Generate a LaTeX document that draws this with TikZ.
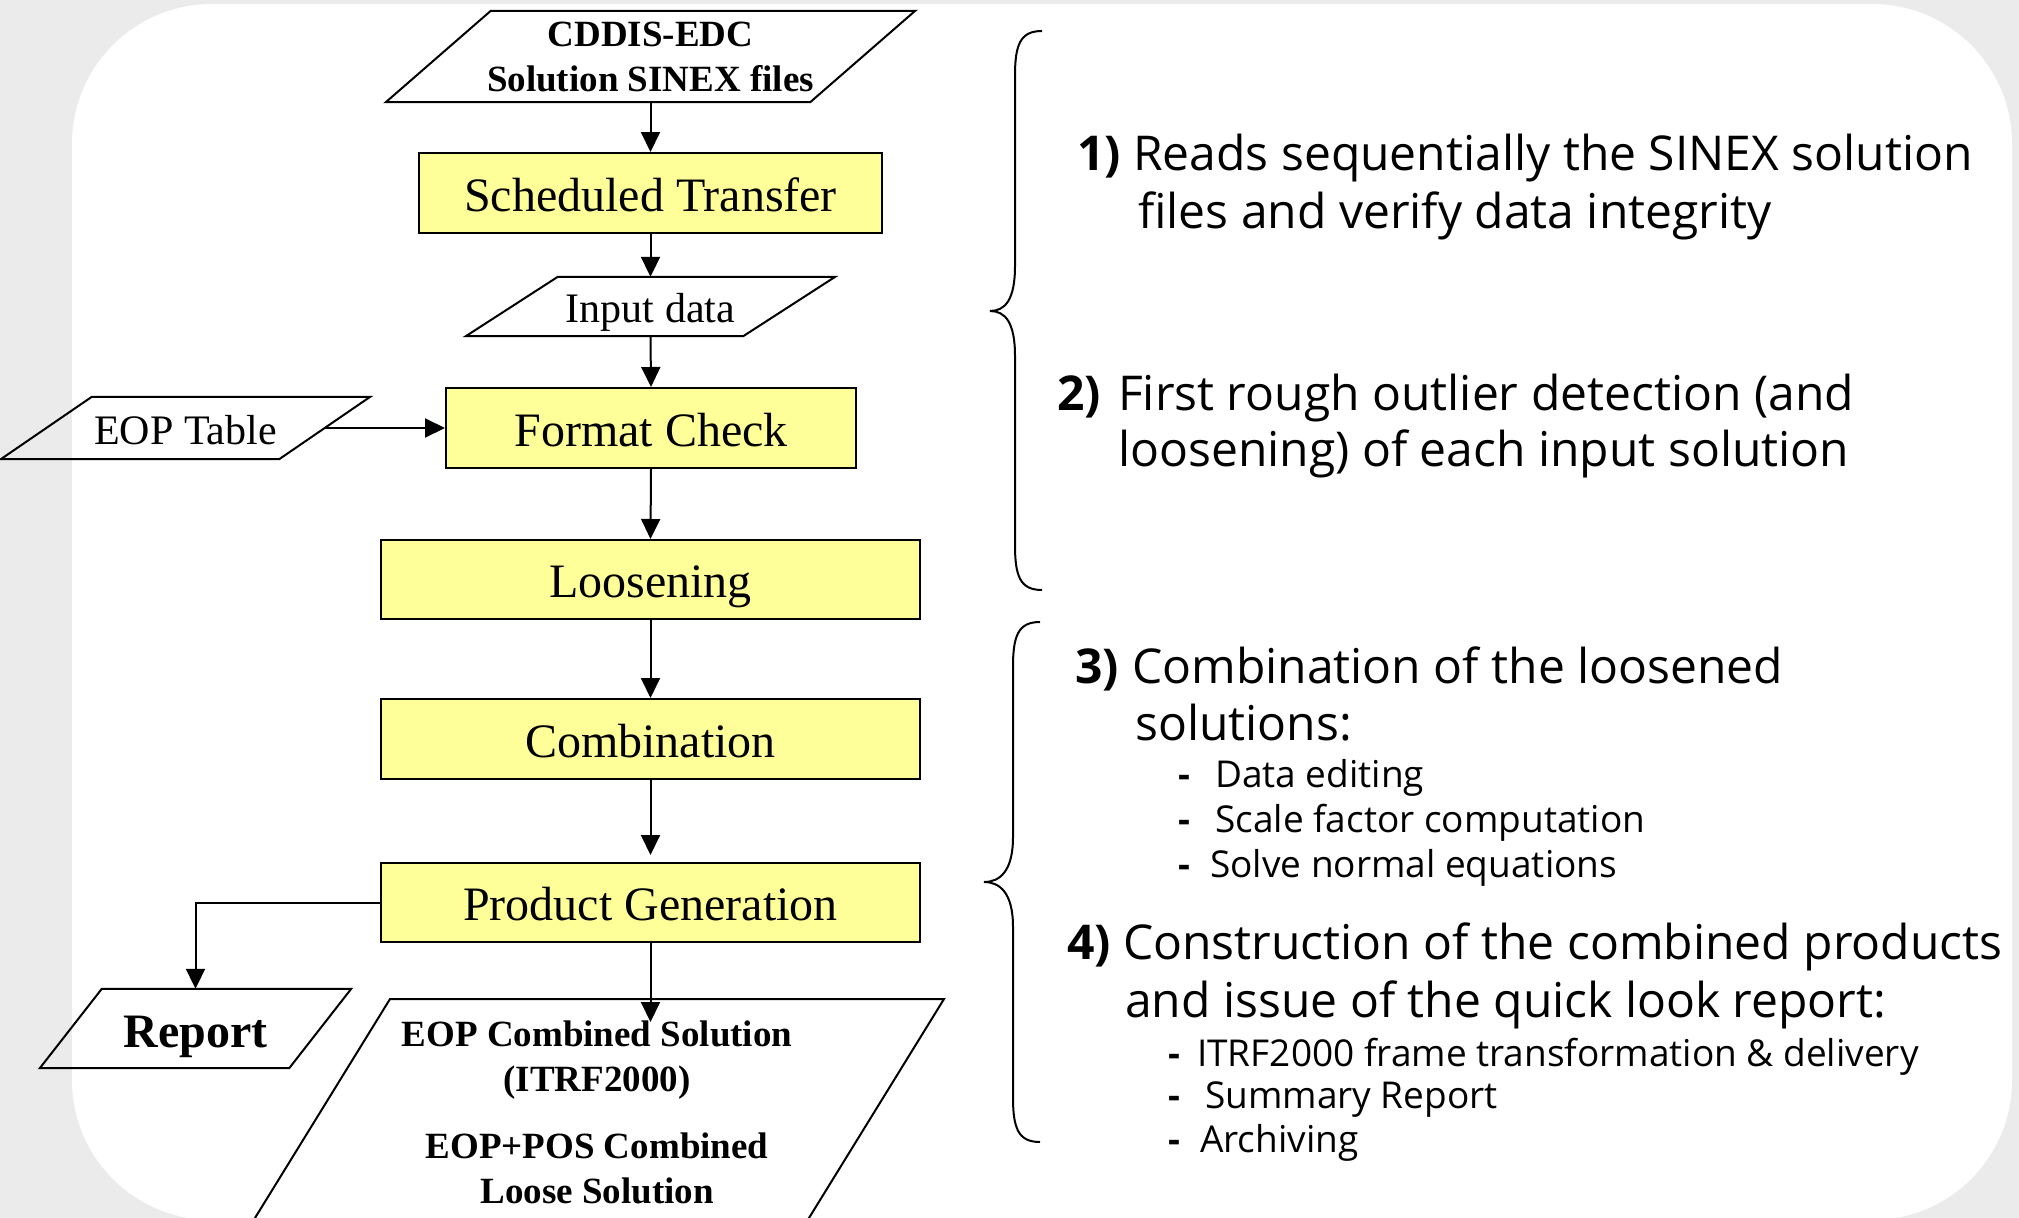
\documentclass[tikz,border=0pt]{standalone}
\usepackage{fontspec}
\setmainfont{Liberation Serif}
\newfontfamily\rfont{Open Sans}
\usetikzlibrary{arrows.meta,calc}
\definecolor{bggray}{RGB}{235,235,235}
\definecolor{boxyellow}{RGB}{255,255,153}
\newcommand\fs[1]{\fontsize{#1}{#1}\selectfont}
\newcommand\parashape[2]{\draw[iostroke] ($(#1.north west)+(#2,0)$) -- (#1.north east) -- ($(#1.south east)-(#2,0)$) -- (#1.south west) -- cycle;}
\begin{document}
\begin{tikzpicture}[x=1pt,y=-1pt,
  procbox/.style={draw=black, line width=2pt, fill=boxyellow, inner sep=0pt, text height=36pt, text depth=0pt, font=\fs{48}},
  iobox/.style={inner sep=0pt},
  iostroke/.style={draw=black, line width=2pt},
  conn/.style={-{Triangle[length=20pt,width=19pt]}, line width=2pt},
  rbig/.style={anchor=base west, inner sep=0pt, font=\rfont\fs{48}},
  rsmall/.style={anchor=base west, inner sep=0pt, font=\rfont\fs{37}},
  brace/.style={line width=2pt},
  soltext/.style={anchor=base, inner sep=0pt, font=\bfseries\fs{37}}
]
\useasboundingbox (0,0) rectangle (2019,1218);
\clip (0,0) rectangle (2019,1218);
\fill[bggray] (0,0) rectangle (2019,1218);
\fill[white, rounded corners=140pt] (72,4) rectangle (2012,1220);

% input/output shapes
\node[iobox, minimum width=529pt, minimum height=91pt, align=center, font=\bfseries\fontsize{37}{45}\selectfont] (cddis) at (650.5,56.5) {CDDIS-EDC\\Solution SINEX files};
\parashape{cddis}{105}
\node[iobox, minimum width=369pt, minimum height=59pt, text height=31pt, text depth=0pt, font=\fs{42}] (input) at (650.5,306.5) {Input data};
\parashape{input}{92}
\node[iobox, minimum width=369pt, minimum height=62pt, text height=32pt, text depth=0pt, font=\fs{42}] (eop) at (185.5,428) {EOP Table};
\parashape{eop}{91}
\node[iobox, minimum width=311pt, minimum height=79pt, text height=37pt, text depth=0pt, font=\bfseries\fs{48}] (report) at (195.5,1028.5) {Report};
\parashape{report}{62}

% big output parallelogram
\draw[iostroke] (390,999) -- (944,999) -- (788,1252) -- (234,1252) -- cycle;
\node[soltext] (sol1) at (597,1046) {EOP Combined Solution};
\node[soltext] (sol2) at (597,1091) {(ITRF2000)};
\node[soltext] (sol3) at (597,1158) {EOP+POS Combined};
\node[soltext] (sol4) at (597,1203) {Loose Solution};
\coordinate (soltip) at (650.5,1022);

% process boxes
\node[procbox, minimum width=463pt, minimum height=80pt] (st) at (650.5,193) {Scheduled Transfer};
\node[procbox, minimum width=410pt, minimum height=80pt] (fc) at (651,428) {Format Check};
\node[procbox, minimum width=539pt, minimum height=79pt] (loos) at (650.5,579.5) {Loosening};
\node[procbox, minimum width=539pt, minimum height=80pt] (comb) at (650.5,739) {Combination};
\node[procbox, minimum width=539pt, minimum height=79pt] (pg) at (650.5,902.5) {Product Generation};

% connectors
\draw[conn] (cddis.south) -- (st.north);
\draw[conn] (st.south) -- (input.north);
\draw[conn] (input.south) -- (fc.north);
\draw[conn, shorten <=-45.5pt] (eop.east) -- (fc.west);
\draw[conn] (fc.south) -- (loos.north);
\draw[conn] (loos.south) -- (comb.north);
\draw[conn, shorten >=7pt] (comb.south) -- (pg.north);
\draw[conn] (pg.west) -| (report.north);
\draw[conn] (pg.south) -- (soltip);

% braces
\draw[brace] (1042,31) .. controls (1020,31) and (1015,45) .. (1015,76) -- (1015,266) .. controls (1015,300) and (1005,311) .. (990,311) .. controls (1005,311) and (1015,322) .. (1015,356) -- (1015,545) .. controls (1015,576) and (1020,590) .. (1042,590);
\draw[brace] (1040,622) .. controls (1018,622) and (1013,636) .. (1013,667) -- (1013,837) .. controls (1013,871) and (1000,882) .. (984,882) .. controls (1000,882) and (1013,893) .. (1013,927) -- (1013,1097) .. controls (1013,1128) and (1018,1142) .. (1040,1142);

% right-hand text
\node[rbig] (t1a) at (1077,170) {\makebox[56pt][l]{\bfseries 1)}Reads sequentially the SINEX solution};
\node[rbig] (t1b) at (1138,228) {files and verify data integrity};
\node[rbig] (t2a) at (1057,410) {\makebox[61pt][l]{\bfseries 2)}First rough outlier detection (and};
\node[rbig] (t2b) at (1118,466) {loosening) of each input solution};
\node[rbig] (t3a) at (1075,683) {\makebox[57pt][l]{\bfseries 3)}Combination of the loosened};
\node[rbig] (t3b) at (1135,740) {solutions:};
\node[rsmall] (t3c) at (1178,787) {\makebox[37pt][l]{\bfseries -}Data editing};
\node[rsmall] (t3d) at (1178,832) {\makebox[37pt][l]{\bfseries -}Scale factor computation};
\node[rsmall] (t3e) at (1178,877) {\makebox[32pt][l]{\bfseries -}Solve normal equations};
\node[rbig] (t4a) at (1067,959) {\makebox[56pt][l]{\bfseries 4)}Construction of the combined products};
\node[rbig] (t4b) at (1125,1017) {and issue of the quick look report:};
\node[rsmall] (t4c) at (1168,1066) {\makebox[29pt][l]{\bfseries -}ITRF2000 frame transformation \& delivery};
\node[rsmall] (t4d) at (1168,1108) {\makebox[37pt][l]{\bfseries -}Summary Report};
\node[rsmall] (t4e) at (1168,1152) {\makebox[32pt][l]{\bfseries -}Archiving};
\end{tikzpicture}
\end{document}
